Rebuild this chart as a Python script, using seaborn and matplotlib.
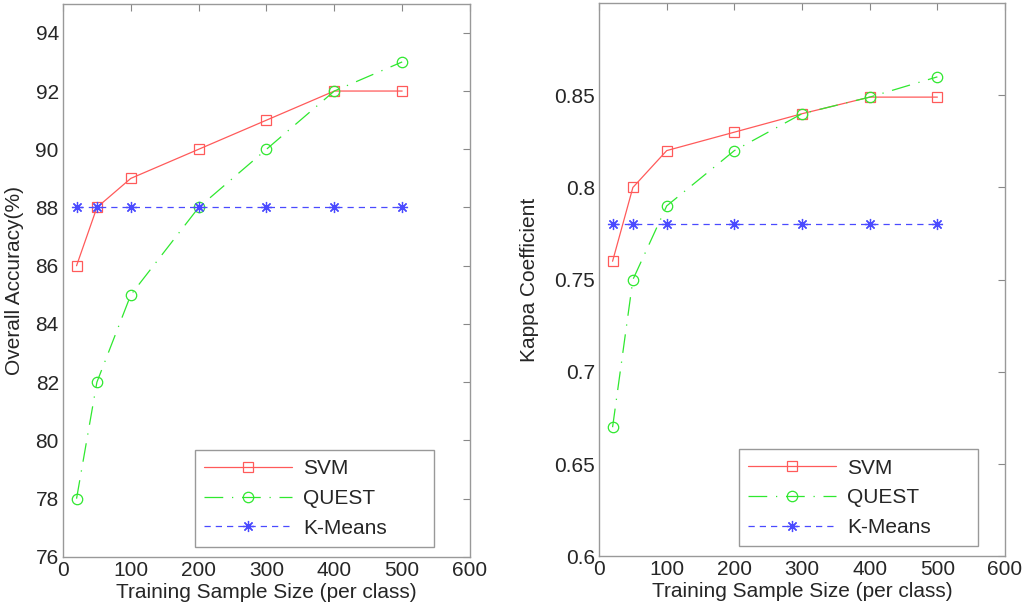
import seaborn as sns
import matplotlib.pyplot as plt
import pandas as pd
import numpy as np

# -----------------------------
# Data
# -----------------------------
sample_size = [20, 50, 100, 200, 300, 400, 500]

oa_svm = [86, 88, 89, 90, 91, 92, 92]
oa_quest = [78, 82, 85, 88, 90, 92, 93]
oa_kmeans = [88, 88, 88, 88, 88, 88, 88]

kappa_svm = [0.76, 0.80, 0.82, 0.83, 0.84, 0.849, 0.849]
kappa_quest = [0.67, 0.75, 0.79, 0.82, 0.84, 0.849, 0.86]
kappa_kmeans = [0.78, 0.78, 0.78, 0.78, 0.78, 0.78, 0.78]

methods = ["SVM", "QUEST", "K-Means"]

# -----------------------------
# Styling (MATLAB-like)
# -----------------------------
sns.set_style("white")
plt.rcParams["font.family"] = ["Liberation Sans", "DejaVu Sans"]

styles = {
    "SVM": dict(color="#ff5a5a", linestyle="-", marker="s", markersize=7.5),
    "QUEST": dict(color="#2fe82f", linestyle=(0, (15, 7, 1, 7)), marker="o", markersize=7.5),
    "K-Means": dict(color="#4a4aff", linestyle=(0, (5, 4)), marker=(8, 2, 0), markersize=8),
}

fig = plt.figure(figsize=(10.24, 6.14), dpi=100)
ax1 = fig.add_axes([0.0615, 0.093, 0.3975, 0.901])
ax2 = fig.add_axes([0.585, 0.094, 0.3965, 0.901])

FS = 15


def draw(ax, series, ylabel, ylim, yticks, ypad, leg_box):
    for name, vals in zip(methods, series):
        st = styles[name]
        sns.lineplot(
            x=sample_size, y=vals, ax=ax, label=name,
            color=st["color"], linestyle=st["linestyle"], linewidth=0.9,
            marker=st["marker"], markersize=st["markersize"],
            markerfacecolor="none", markeredgecolor=st["color"],
            markeredgewidth=0.9,
        )
    ax.set_xlim(0, 600)
    ax.set_ylim(*ylim)
    ax.set_xticks(np.arange(0, 601, 100))
    ax.set_yticks(yticks)
    ax.set_yticklabels([f"{v:g}" for v in yticks])
    ax.set_xlabel("Training Sample Size (per class)", fontsize=FS, labelpad=2)
    ax.set_ylabel(ylabel, fontsize=FS, labelpad=ypad)
    ax.tick_params(direction="in", length=5, width=0.8, color="#888888",
                   labelsize=FS, top=True, right=True, pad=3)
    for sp in ax.spines.values():
        sp.set_visible(True)
        sp.set_color("#999999")
        sp.set_linewidth(1.0)
    leg = ax.legend(loc="lower left", bbox_to_anchor=leg_box, mode="expand",
                    fontsize=FS, handlelength=4.2, handletextpad=0.55,
                    borderpad=0.45, borderaxespad=0, labelspacing=0.51,
                    fancybox=False, framealpha=1)
    leg.get_frame().set_edgecolor("#999999")
    leg.get_frame().set_linewidth(1.0)


draw(ax1, [oa_svm, oa_quest, oa_kmeans], "Overall Accuracy(%)",
     (76, 95), np.arange(76, 95, 2), 8.5, (0.324, 0.018, 0.587, 0.17))
draw(ax2, [kappa_svm, kappa_quest, kappa_kmeans], "Kappa Coefficient",
     (0.6, 0.9), [0.6, 0.65, 0.7, 0.75, 0.8, 0.85], 11, (0.345, 0.018, 0.589, 0.17))

plt.savefig("out.png", dpi=100)
plt.close()
